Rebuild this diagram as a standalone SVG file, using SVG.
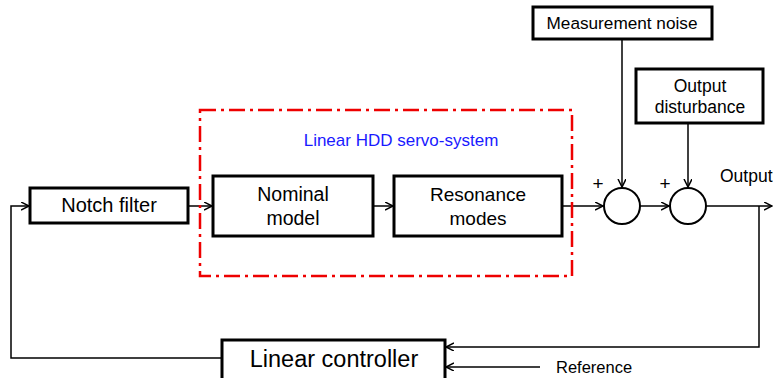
<svg xmlns="http://www.w3.org/2000/svg" width="773" height="378" viewBox="0 0 773 378">
<defs>
<marker id="arr" markerWidth="10" markerHeight="10" refX="8" refY="4" orient="auto" markerUnits="userSpaceOnUse">
<path d="M0,0 L8,4 L0,8" fill="none" stroke="#000" stroke-width="1.5"/>
</marker>
<style>
.box{fill:#fff;stroke:#000;stroke-width:3}
.sum{fill:#fff;stroke:#000;stroke-width:2}
.ln{fill:none;stroke:#000;stroke-width:1.5}
.t{font-family:"Liberation Sans",Arial,sans-serif;fill:#000;text-anchor:middle}
</style>
</defs>
<rect width="773" height="378" fill="#fff"/>
<g id="connectors">
<line class="ln" x1="188" y1="206" x2="212" y2="206" marker-end="url(#arr)"/>
<line class="ln" x1="373" y1="206" x2="393" y2="206" marker-end="url(#arr)"/>
<line class="ln" x1="562" y1="206" x2="603" y2="206" marker-end="url(#arr)"/>
<line class="ln" x1="640" y1="206" x2="669" y2="206" marker-end="url(#arr)"/>
<line class="ln" x1="706" y1="206" x2="772" y2="206" marker-end="url(#arr)"/>
<line class="ln" x1="622" y1="39" x2="622" y2="187" marker-end="url(#arr)"/>
<line class="ln" x1="688" y1="123" x2="688" y2="187" marker-end="url(#arr)"/>
<polyline class="ln" points="759,206 759,347 446,347" marker-end="url(#arr)"/>
<line class="ln" x1="540" y1="367" x2="446" y2="367" marker-end="url(#arr)"/>
<polyline class="ln" points="222,358 11,358 11,206 29,206" marker-end="url(#arr)"/>
</g>
<g id="servo-system">
<rect x="200" y="110" width="372" height="166" fill="none" stroke="#e00" stroke-width="2.5" stroke-dasharray="16 5 3 5"/>
<text class="t" x="401" y="146" style="font-size:17px;fill:#1a1aff">Linear HDD servo-system</text>
</g>
<g id="notch-filter">
<rect class="box" x="30" y="188" width="158" height="35"/>
<text class="t" x="109" y="212" style="font-size:20px">Notch filter</text>
</g>
<g id="nominal-model">
<rect class="box" x="213" y="176" width="160" height="60"/>
<text class="t" x="293" y="201" style="font-size:19.5px">Nominal</text>
<text class="t" x="293" y="225" style="font-size:19.5px">model</text>
</g>
<g id="resonance-modes">
<rect class="box" x="394" y="176" width="168" height="60"/>
<text class="t" x="478" y="201" style="font-size:19px">Resonance</text>
<text class="t" x="478" y="225" style="font-size:19px">modes</text>
</g>
<g id="sum1">
<circle class="sum" cx="622" cy="206" r="18"/>
<text class="t" x="598" y="190" style="font-size:19px">+</text>
</g>
<g id="sum2">
<circle class="sum" cx="688" cy="206" r="18"/>
<text class="t" x="665" y="190" style="font-size:19px">+</text>
</g>
<g id="measurement-noise">
<rect class="box" x="533" y="7" width="179" height="32"/>
<text class="t" x="622" y="29" style="font-size:17.2px">Measurement noise</text>
</g>
<g id="output-disturbance">
<rect class="box" x="636" y="69" width="127" height="54"/>
<text class="t" x="700" y="92" style="font-size:17.5px">Output</text>
<text class="t" x="700" y="113" style="font-size:17.5px">disturbance</text>
</g>
<g id="output-label">
<text class="t" x="720" y="182" style="font-size:17.5px;text-anchor:start">Output</text>
</g>
<g id="linear-controller">
<rect class="box" x="222" y="340" width="223" height="40"/>
<text class="t" x="334" y="367" style="font-size:23.5px">Linear controller</text>
</g>
<g id="reference-label">
<text class="t" x="556" y="373" style="font-size:16.5px;text-anchor:start">Reference</text>
</g>
</svg>
